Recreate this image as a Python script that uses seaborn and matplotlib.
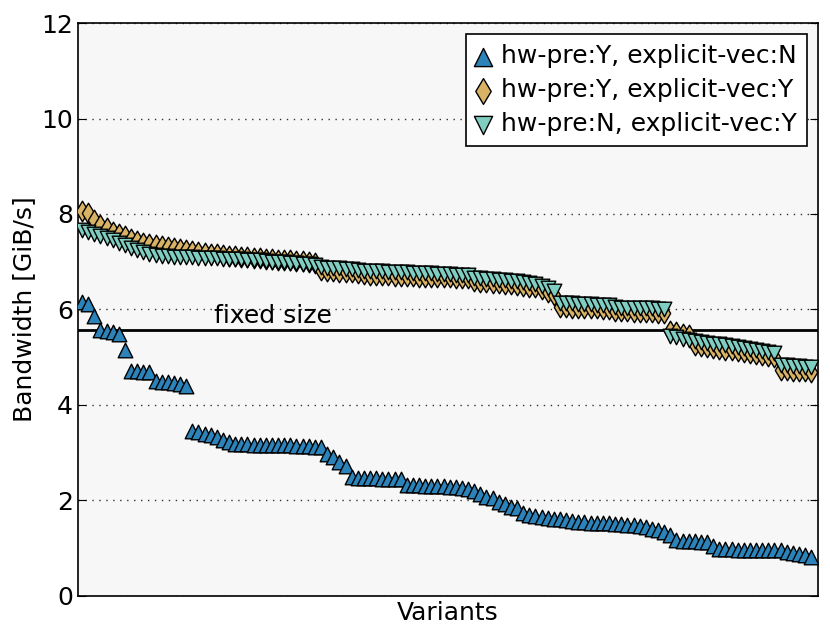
import pandas as pd
import matplotlib
matplotlib.use("Agg")
import matplotlib.pyplot as plt
import seaborn as sns

# Bandwidth per variant, each series sorted in descending order
hw_pre_y_vec_n = [
    6.15, 6.12, 5.86, 5.56, 5.54, 5.52, 5.48, 5.15, 4.72, 4.70,
    4.69, 4.68, 4.50, 4.48, 4.47, 4.45, 4.43, 4.40, 3.46, 3.43,
    3.40, 3.36, 3.32, 3.27, 3.22, 3.19, 3.18, 3.18, 3.17, 3.17,
    3.17, 3.16, 3.16, 3.15, 3.15, 3.14, 3.14, 3.13, 3.12, 3.11,
    2.97, 2.90, 2.80, 2.73, 2.48, 2.47, 2.47, 2.46, 2.46, 2.45,
    2.45, 2.44, 2.44, 2.33, 2.32, 2.32, 2.31, 2.31, 2.30, 2.30,
    2.29, 2.28, 2.26, 2.23, 2.19, 2.13, 2.08, 2.04, 1.97, 1.92,
    1.87, 1.84, 1.73, 1.70, 1.68, 1.66, 1.64, 1.62, 1.60, 1.58,
    1.56, 1.55, 1.54, 1.53, 1.53, 1.52, 1.52, 1.51, 1.50, 1.49,
    1.48, 1.46, 1.44, 1.41, 1.37, 1.34, 1.28, 1.16, 1.15, 1.14,
    1.14, 1.13, 1.12, 1.05, 0.99, 0.98, 0.98, 0.97, 0.97, 0.97,
    0.96, 0.96, 0.96, 0.95, 0.95, 0.92, 0.90, 0.88, 0.86, 0.82,
]
hw_pre_y_vec_y = [
    8.07, 8.02, 7.88, 7.77, 7.70, 7.63, 7.58, 7.53, 7.47, 7.43,
    7.39, 7.37, 7.35, 7.33, 7.30, 7.28, 7.26, 7.24, 7.22, 7.20,
    7.19, 7.17, 7.16, 7.15, 7.13, 7.12, 7.10, 7.09, 7.08, 7.07,
    7.06, 7.05, 7.04, 7.03, 7.03, 7.02, 7.01, 7.00, 6.98, 6.82,
    6.81, 6.80, 6.79, 6.79, 6.78, 6.77, 6.74, 6.73, 6.73, 6.72,
    6.72, 6.71, 6.71, 6.70, 6.70, 6.69, 6.69, 6.68, 6.68, 6.67,
    6.67, 6.66, 6.65, 6.65, 6.59, 6.58, 6.57, 6.56, 6.55, 6.54,
    6.53, 6.52, 6.50, 6.48, 6.46, 6.42, 6.36, 6.30, 6.05, 6.05,
    6.04, 6.04, 6.03, 6.03, 6.02, 6.01, 6.01, 5.97, 5.96, 5.96,
    5.95, 5.95, 5.94, 5.94, 5.93, 5.92, 5.55, 5.52, 5.49, 5.46,
    5.26, 5.24, 5.22, 5.20, 5.18, 5.16, 5.14, 5.12, 5.10, 5.08,
    5.06, 5.04, 5.02, 5.00, 4.74, 4.73, 4.72, 4.71, 4.70, 4.69,
]
hw_pre_n_vec_y = [
    7.66, 7.62, 7.58, 7.53, 7.49, 7.45, 7.40, 7.35, 7.29, 7.24,
    7.20, 7.17, 7.15, 7.13, 7.11, 7.10, 7.10, 7.09, 7.09, 7.08,
    7.08, 7.07, 7.07, 7.06, 7.06, 7.05, 7.05, 7.04, 7.04, 7.03,
    7.02, 7.00, 6.99, 6.99, 6.98, 6.97, 6.96, 6.95, 6.93, 6.88,
    6.87, 6.86, 6.86, 6.85, 6.84, 6.83, 6.81, 6.81, 6.80, 6.80,
    6.79, 6.79, 6.78, 6.78, 6.77, 6.77, 6.76, 6.76, 6.75, 6.75,
    6.74, 6.73, 6.73, 6.72, 6.66, 6.65, 6.64, 6.63, 6.62, 6.61,
    6.60, 6.59, 6.57, 6.56, 6.54, 6.50, 6.45, 6.38, 6.14, 6.13,
    6.13, 6.12, 6.12, 6.11, 6.10, 6.10, 6.09, 6.05, 6.04, 6.04,
    6.03, 6.03, 6.02, 6.02, 6.01, 6.00, 5.45, 5.42, 5.39, 5.36,
    5.34, 5.32, 5.30, 5.28, 5.27, 5.25, 5.23, 5.21, 5.19, 5.17,
    5.15, 5.12, 5.10, 5.08, 4.84, 4.83, 4.82, 4.81, 4.80, 4.79,
]
labels = [
    "hw-pre:Y, explicit-vec:N",
    "hw-pre:Y, explicit-vec:Y",
    "hw-pre:N, explicit-vec:Y",
]
fixed_size = 5.57

colors = ["#2b83ba", "#d8b365", "#80cdc1"]
markers = ["^", "d", "v"]

sns.set_style("ticks")
plt.rcParams["font.family"] = ["DejaVu Sans"]
plt.rcParams["font.size"] = 18
plt.rcParams["text.color"] = "black"
plt.rcParams["axes.labelcolor"] = "black"
plt.rcParams["xtick.color"] = "black"
plt.rcParams["ytick.color"] = "black"

fig = plt.figure(figsize=(8.3, 6.4), dpi=100)
ax = fig.add_axes([0.094, 0.069, 0.8915, 0.895])
ax.set_facecolor("#f7f7f7")

for values, label, color, marker in zip(
    [hw_pre_y_vec_n, hw_pre_y_vec_y, hw_pre_n_vec_y], labels, colors, markers
):
    df = pd.DataFrame({"variant": range(len(values)), "bw": values})
    sns.scatterplot(
        ax=ax,
        data=df,
        x="variant",
        y="bw",
        marker=marker,
        color=color,
        s=110,
        edgecolor="black",
        linewidth=1,
        label=label,
        zorder=3,
    )

ax.axhline(fixed_size, color="black", linewidth=2, zorder=2)
ax.text(21.5, fixed_size + 0.05, "fixed size", fontsize=18, va="bottom", ha="left")

ax.set_xlim(-0.65, len(hw_pre_y_vec_n) - 1 + 1.1)
ax.set_ylim(0, 12)
ax.set_yticks(range(0, 13, 2))
ax.set_xticks([])
ax.yaxis.grid(True, linestyle=(0, (1, 4)), color="#333333", linewidth=1)
ax.tick_params(axis="y", direction="in", right=True, length=6, labelsize=18)
for spine in ax.spines.values():
    spine.set_color("black")
    spine.set_linewidth(1.2)

ax.set_xlabel("Variants", fontsize=18)
ax.set_ylabel("Bandwidth [GiB/s]", fontsize=18)

leg = ax.legend(
    loc="upper right",
    fontsize=18,
    scatterpoints=1,
    markerscale=1.25,
    fancybox=False,
    framealpha=1,
    edgecolor="black",
    handletextpad=0.4,
    labelspacing=0.4,
    borderpad=0.4,
    handlelength=0.6,
    borderaxespad=0.45,
)
leg.get_frame().set_linewidth(1.2)

fig.savefig("out.png", dpi=100)
